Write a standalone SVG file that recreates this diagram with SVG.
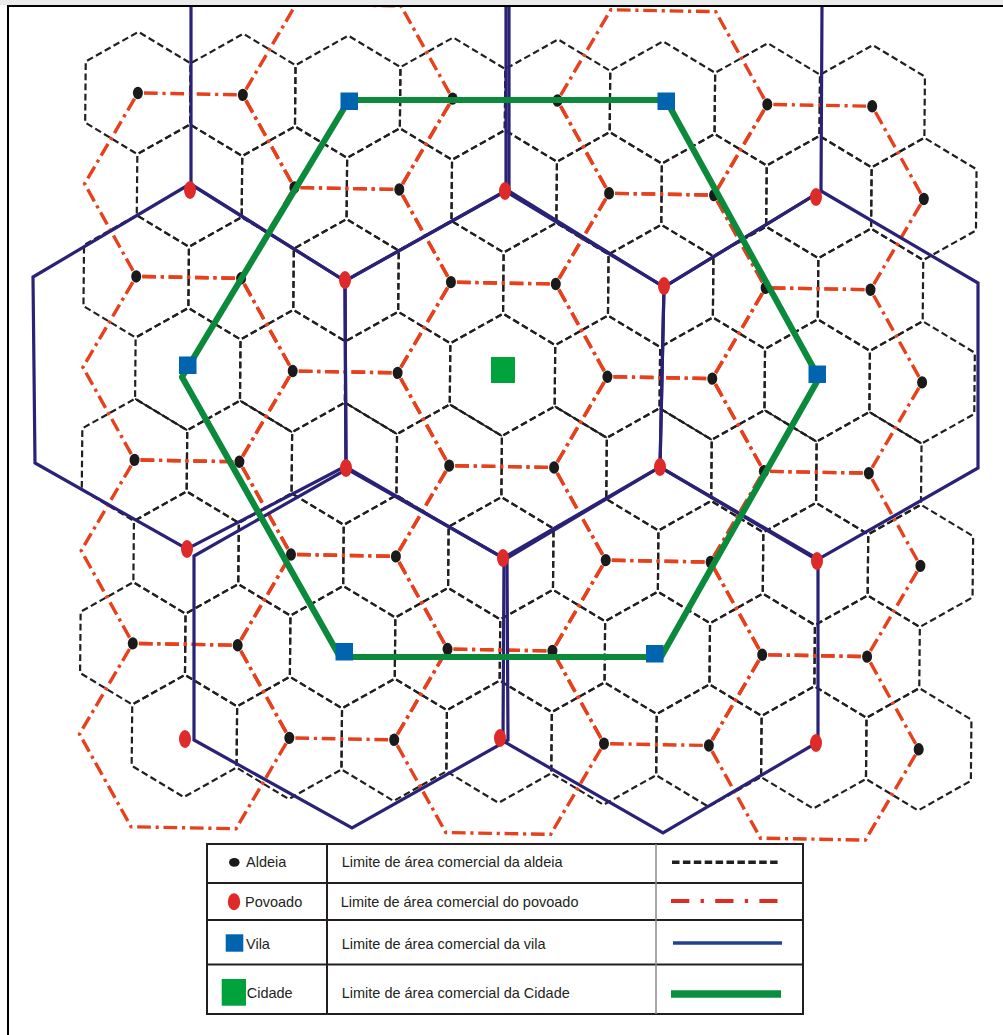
<svg xmlns="http://www.w3.org/2000/svg" xmlns:xlink="http://www.w3.org/1999/xlink" width="1003" height="1035" viewBox="0 0 1003 1035">
<style>
.grid{fill:none;stroke:#231f20;stroke-width:2.2;stroke-dasharray:6.6 3.4;stroke-dashoffset:8.3}
.solid{fill:none;stroke:#231f20;stroke-width:1.7}
.pov{fill:none;stroke:#e6401d;stroke-width:3.4;stroke-dasharray:13 4.5 3 4.5;stroke-dashoffset:19}
.vila{fill:none;stroke:#2a2276;stroke-width:3.2;stroke-linejoin:miter}
.cid{fill:none;stroke:#0b8a3c;stroke-width:6.2;stroke-linejoin:round}
.ald{fill:#1a1a1a}
.povd{fill:#df2a2a}
.vsq{fill:#0064ae}
.csq{fill:#00a23b}
.tx{font-family:"Liberation Sans",Arial,sans-serif;font-size:14.5px;fill:#231f20}
.tb{stroke:#231f20;stroke-width:2;fill:none}
</style>
<defs>
<path id="h" class="grid" pathLength="360" d="M0,-61.15 L52.45,-30.58 L52.45,30.58 L0,61.15 L-52.45,30.58 L-52.45,-30.58 Z"/>
<path id="p" class="pov" pathLength="600" d="M-104.9,0 L-52.45,-91.73 L52.45,-91.73 L104.9,0 L52.45,91.73 L-52.45,91.73 Z"/>
<ellipse id="a" class="ald" cx="0" cy="0" rx="5" ry="6.2"/>
<clipPath id="clip"><rect x="9" y="7" width="994" height="1028"/></clipPath>
</defs>
<rect x="0" y="0" width="1003" height="1035" fill="#ffffff"/>
<rect x="0" y="0" width="1003" height="5" fill="#ebebeb"/>
<g clip-path="url(#clip)">
<g id="lattice" transform="matrix(1 0.0181 -0.00927 1 502.5 374.8)">
<g id="aldeia-areas">
<use href="#h" x="-367.15" y="-275.19"/><use href="#h" x="-262.25" y="-275.19"/><use href="#h" x="-157.35" y="-275.19"/><use href="#h" x="-52.45" y="-275.19"/><use href="#h" x="52.45" y="-275.19"/><use href="#h" x="157.35" y="-275.19"/><use href="#h" x="262.25" y="-275.19"/><use href="#h" x="367.15" y="-275.19"/>
<use href="#h" x="-314.7" y="-183.46"/><use href="#h" x="-209.8" y="-183.46"/><use href="#h" x="-104.9" y="-183.46"/><use href="#h" x="0" y="-183.46"/><use href="#h" x="104.9" y="-183.46"/><use href="#h" x="209.8" y="-183.46"/><use href="#h" x="314.7" y="-183.46"/><use href="#h" x="419.6" y="-183.46"/>
<use href="#h" x="-367.15" y="-91.73"/><use href="#h" x="-262.25" y="-91.73"/><use href="#h" x="-157.35" y="-91.73"/><use href="#h" x="-52.45" y="-91.73"/><use href="#h" x="52.45" y="-91.73"/><use href="#h" x="157.35" y="-91.73"/><use href="#h" x="262.25" y="-91.73"/><use href="#h" x="367.15" y="-91.73"/>
<use href="#h" x="-314.7" y="0"/><use href="#h" x="-209.8" y="0"/><use href="#h" x="-104.9" y="0"/><use href="#h" x="0" y="0"/><use href="#h" x="104.9" y="0"/><use href="#h" x="209.8" y="0"/><use href="#h" x="314.7" y="0"/><use href="#h" x="419.6" y="0"/>
<use href="#h" x="-367.15" y="91.73"/><use href="#h" x="-262.25" y="91.73"/><use href="#h" x="-157.35" y="91.73"/><use href="#h" x="-52.45" y="91.73"/><use href="#h" x="52.45" y="91.73"/><use href="#h" x="157.35" y="91.73"/><use href="#h" x="262.25" y="91.73"/><use href="#h" x="367.15" y="91.73"/>
<use href="#h" x="-314.7" y="183.46"/><use href="#h" x="-209.8" y="183.46"/><use href="#h" x="-104.9" y="183.46"/><use href="#h" x="0" y="183.46"/><use href="#h" x="104.9" y="183.46"/><use href="#h" x="209.8" y="183.46"/><use href="#h" x="314.7" y="183.46"/><use href="#h" x="419.6" y="183.46"/>
<use href="#h" x="-367.15" y="275.19"/><use href="#h" x="-262.25" y="275.19"/><use href="#h" x="-157.35" y="275.19"/><use href="#h" x="-52.45" y="275.19"/><use href="#h" x="52.45" y="275.19"/><use href="#h" x="157.35" y="275.19"/><use href="#h" x="262.25" y="275.19"/><use href="#h" x="367.15" y="275.19"/>
<use href="#h" x="-314.7" y="366.92"/><use href="#h" x="-209.8" y="366.92"/><use href="#h" x="-104.9" y="366.92"/><use href="#h" x="0" y="366.92"/><use href="#h" x="104.9" y="366.92"/><use href="#h" x="209.8" y="366.92"/><use href="#h" x="314.7" y="366.92"/><use href="#h" x="419.6" y="366.92"/>
<path class="solid" d="M-367.15,30.58 L-314.7,61.15 M-262.25,30.58 L-209.8,61.15 M-157.35,30.58 L-104.9,61.15 M-52.45,30.58 L0,61.15 M52.45,30.58 L104.9,61.15 M157.35,30.58 L209.8,61.15 M262.25,30.58 L314.7,61.15 M367.15,30.58 L419.6,61.15"/>
</g>
<g id="povoado-areas">
<use href="#p" x="-157.35" y="-275.19"/><use href="#p" x="157.35" y="-275.19"/>
<use href="#p" x="-314.7" y="-183.46"/><use href="#p" x="0" y="-183.46"/><use href="#p" x="314.7" y="-183.46"/>
<use href="#p" x="-157.35" y="-91.73"/><use href="#p" x="157.35" y="-91.73"/>
<use href="#p" x="-314.7" y="0"/><use href="#p" x="0" y="0"/><use href="#p" x="314.7" y="0"/>
<use href="#p" x="-157.35" y="91.73"/><use href="#p" x="157.35" y="91.73"/>
<use href="#p" x="-314.7" y="183.46"/><use href="#p" x="0" y="183.46"/><use href="#p" x="314.7" y="183.46"/>
<use href="#p" x="-157.35" y="275.19"/><use href="#p" x="157.35" y="275.19"/>
<use href="#p" x="-314.7" y="366.92"/><use href="#p" x="0" y="366.92"/><use href="#p" x="314.7" y="366.92"/>
</g>
</g>
<g id="vila-areas" class="vila">
<path d="M191,6 L191,184 L345,281 L506,191 L506,6"/>
<path d="M509,6 L509,191 L664,287 L821,191 L822,6"/>
<path d="M190,184 L33,277 L35,463 L187,549 L346,466 L345,281 Z"/>
<path d="M505,191 L664,287 L660,467 L503,558 L346,467 L345,281 Z"/>
<path d="M821,191 L978,283 L978,468 L817,560 L660,467 L664,287 Z"/>
<path d="M194,556 L347,469 L507,560 L508,740 L352,828 L194,740 Z"/>
<path d="M504,560 L660,467 L818,559 L818,742 L663,833 L503,741 Z"/>
</g>
<g id="aldeias" transform="matrix(1 0.0181 -0.00927 1 502.5 374.8)">
<use href="#a" x="-367.15" y="-275.19"/><use href="#a" x="-262.25" y="-275.19"/><use href="#a" x="-52.45" y="-275.19"/><use href="#a" x="52.45" y="-275.19"/><use href="#a" x="262.25" y="-275.19"/><use href="#a" x="367.15" y="-275.19"/>
<use href="#a" x="-209.8" y="-183.46"/><use href="#a" x="-104.9" y="-183.46"/><use href="#a" x="104.9" y="-183.46"/><use href="#a" x="209.8" y="-183.46"/><use href="#a" x="419.6" y="-183.46"/>
<use href="#a" x="-367.15" y="-91.73"/><use href="#a" x="-262.25" y="-91.73"/><use href="#a" x="-52.45" y="-91.73"/><use href="#a" x="52.45" y="-91.73"/><use href="#a" x="262.25" y="-91.73"/><use href="#a" x="367.15" y="-91.73"/>
<use href="#a" x="-209.8" y="0"/><use href="#a" x="-104.9" y="0"/><use href="#a" x="104.9" y="0"/><use href="#a" x="209.8" y="0"/><use href="#a" x="419.6" y="0"/>
<use href="#a" x="-367.15" y="91.73"/><use href="#a" x="-262.25" y="91.73"/><use href="#a" x="-52.45" y="91.73"/><use href="#a" x="52.45" y="91.73"/><use href="#a" x="262.25" y="91.73"/><use href="#a" x="367.15" y="91.73"/>
<use href="#a" x="-209.8" y="183.46"/><use href="#a" x="-104.9" y="183.46"/><use href="#a" x="104.9" y="183.46"/><use href="#a" x="209.8" y="183.46"/><use href="#a" x="419.6" y="183.46"/>
<use href="#a" x="-367.15" y="275.19"/><use href="#a" x="-262.25" y="275.19"/><use href="#a" x="-52.45" y="275.19"/><use href="#a" x="52.45" y="275.19"/><use href="#a" x="262.25" y="275.19"/><use href="#a" x="367.15" y="275.19"/>
<use href="#a" x="-209.8" y="366.92"/><use href="#a" x="-104.9" y="366.92"/><use href="#a" x="104.9" y="366.92"/><use href="#a" x="209.8" y="366.92"/><use href="#a" x="419.6" y="366.92"/>
</g>
<g id="povoados" class="povd">
<ellipse cx="190" cy="190" rx="6" ry="9"/>
<ellipse cx="505" cy="191" rx="6" ry="9"/>
<ellipse cx="816" cy="197" rx="6" ry="9"/>
<ellipse cx="345" cy="280" rx="6" ry="9"/>
<ellipse cx="664" cy="286" rx="6" ry="9"/>
<ellipse cx="346" cy="468" rx="6" ry="9"/>
<ellipse cx="660" cy="467" rx="6" ry="9"/>
<ellipse cx="187" cy="549" rx="6" ry="9"/>
<ellipse cx="503" cy="558" rx="6" ry="9"/>
<ellipse cx="817" cy="561" rx="6" ry="9"/>
<ellipse cx="185" cy="739" rx="6" ry="9"/>
<ellipse cx="500" cy="738" rx="6" ry="9"/>
<ellipse cx="816" cy="743" rx="6" ry="9"/>
</g>
<g id="cidade-area">
<polygon class="cid" points="349,100 666,100 819,378 661,657 340,657 182,377"/>
</g>
<g id="vilas" class="vsq">
<rect x="340.5" y="92.5" width="17.5" height="17.5"/>
<rect x="657.5" y="92.5" width="17.5" height="17.5"/>
<rect x="179" y="356.5" width="17.5" height="17.5"/>
<rect x="808.5" y="365.5" width="17.5" height="17.5"/>
<rect x="335.5" y="643" width="17.5" height="17.5"/>
<rect x="646" y="645" width="17.5" height="17.5"/>
</g>
<g id="cidade"><rect class="csq" x="491" y="357" width="24" height="26"/></g>
</g>
<g id="legend">
<rect class="tb" x="207" y="844" width="596" height="170"/>
<path class="tb" d="M207,883 H803 M207,920 H803 M207,964.5 H803 M327,844 V1014"/>
<path d="M656,844 V1014" stroke="#8a8a8a" stroke-width="1.5"/>
<ellipse cx="234.3" cy="862.3" rx="5.3" ry="4.4" class="ald"/>
<text class="tx" x="246" y="867">Aldeia</text>
<ellipse cx="234" cy="901.7" rx="6.2" ry="8.5" class="povd"/>
<text class="tx" x="245" y="907">Povoado</text>
<rect x="225.7" y="934.3" width="17.6" height="17.4" class="vsq"/>
<text class="tx" x="246" y="949">Vila</text>
<rect x="221.7" y="979" width="24.3" height="26.7" class="csq"/>
<text class="tx" x="246.7" y="997.5">Cidade</text>
<text class="tx" x="341.7" y="867">Limite de área comercial da aldeia</text>
<text class="tx" x="340.7" y="907">Limite de área comercial do povoado</text>
<text class="tx" x="341.7" y="949">Limite de área comercial da vila</text>
<text class="tx" x="341.7" y="997.5">Limite de área comercial da Cidade</text>
<path d="M672,862.3 H779" stroke="#231f20" stroke-width="3.5" stroke-dasharray="7.5 3.4" fill="none"/>
<path d="M671,901 H777.5" stroke="#e02b25" stroke-width="4" stroke-dasharray="18.3 11.3 3.3 11.3" fill="none"/>
<path d="M673,943 H782" stroke="#1f4391" stroke-width="3.5" fill="none"/>
<path d="M671,994 H781" stroke="#0a8f40" stroke-width="7.5" fill="none"/>
</g>
<path id="frame" d="M8,1035 V6 H1003" stroke="#000" stroke-width="2" fill="none"/>
</svg>
